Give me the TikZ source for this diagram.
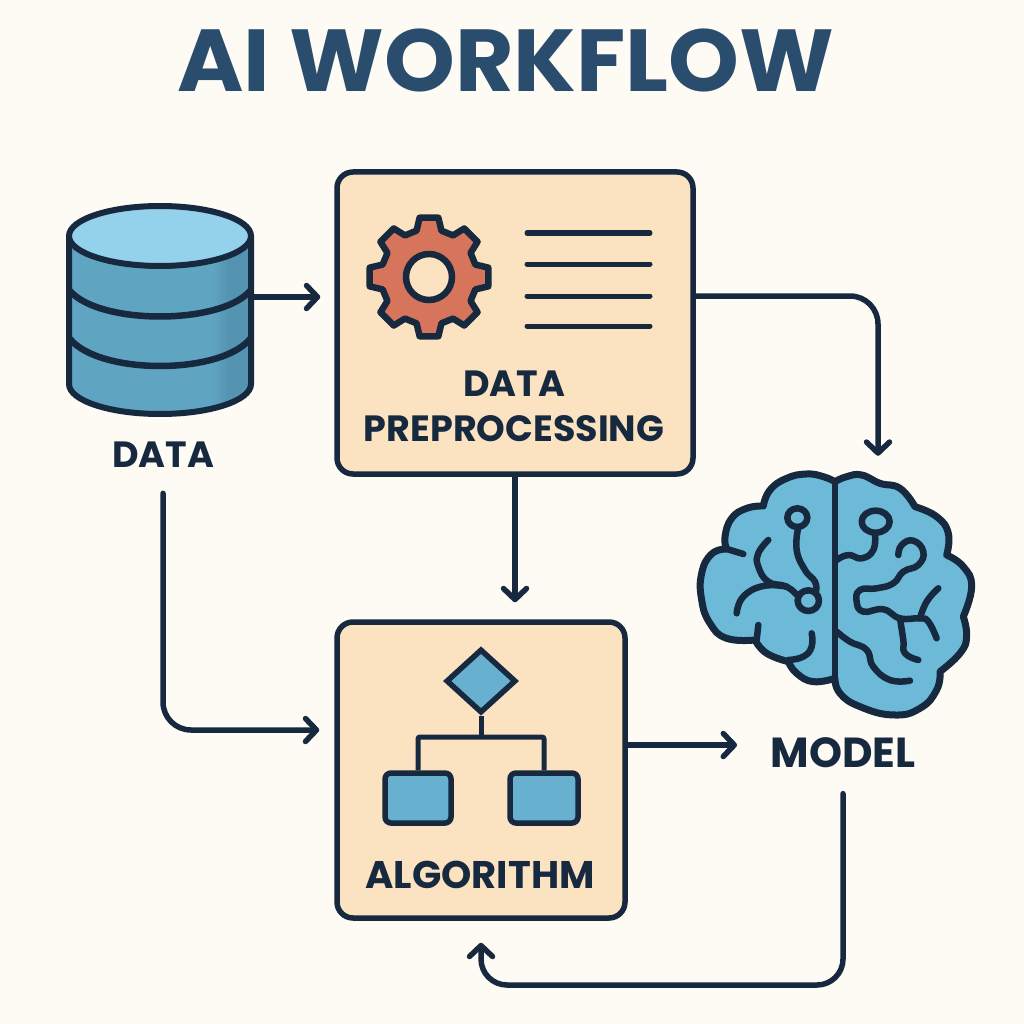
\documentclass[tikz,border=0pt]{standalone}
\usepackage{fontspec}
\setmainfont{Poppins}
\newfontfamily\headfont[FakeStretch=1.024]{Poppins}
\usetikzlibrary{arrows.meta,shapes.geometric}
\definecolor{paper}{HTML}{FEFBF4}
\definecolor{ink}{HTML}{16293F}
\definecolor{titleblue}{HTML}{2A4D6E}
\definecolor{boxfill}{HTML}{FBE3C2}
\definecolor{dbtop}{HTML}{93D2EA}
\definecolor{dbbody}{HTML}{5FA5C2}
\definecolor{dbshade}{HTML}{5494B0}
\definecolor{leafblue}{HTML}{68B0CF}
\definecolor{brainblue}{HTML}{6DB9D8}
\definecolor{gearred}{HTML}{D6755C}
\tikzset{
card/.style={draw=ink,fill=boxfill,line width=5.5pt,rounded corners=16pt,inner sep=0pt},
tag/.style={text=ink,font=\fontsize{36.5}{45}\selectfont\bfseries,align=center},
flow/.style={draw=ink,line width=5.5pt,line cap=round,-{Straight Barb[length=11pt,width=23pt,round]}},
fold/.style={draw=ink,line width=6.5pt,line cap=round,line join=round},
leaf/.style={draw=ink,fill=leafblue,line width=5.5pt,rounded corners=6pt,minimum height=50pt,inner sep=0pt}
}
\begin{document}
\begin{tikzpicture}[x=1pt,y=-1pt]
\useasboundingbox (0,0) rectangle (1024,1024);
\fill[paper] (0,0) rectangle (1024,1024);
\node[text=titleblue,font=\fontsize{88}{88}\selectfont\headfont\bfseries] (title) at (506,60) {AI WORKFLOW};
% data store
\node[minimum width=183pt,minimum height=210pt,inner sep=0pt] (db) at (160,310) {};
\begin{scope}
\clip (69,236) -- (69,384) arc[x radius=91,y radius=30,start angle=180,end angle=0] -- (251,236) -- cycle;
\fill[dbbody] (69,236) rectangle (212,420);
\shade[left color=dbbody,right color=dbshade] (212,236) rectangle (228,420);
\fill[dbshade] (228,236) rectangle (251,420);
\end{scope}
\draw[ink,line width=6pt] (251,236) -- (251,384) arc[x radius=91,y radius=30,start angle=0,end angle=180] -- (69,236);
\filldraw[draw=ink,fill=dbtop,line width=6pt] (160,236) ellipse (91 and 30);
\draw[fold] (70,291) .. controls (100,325) and (220,325) .. (250,291);
\draw[fold] (70,339) .. controls (100,375) and (220,375) .. (250,339);
\node[tag] (datatag) at (163,455) {DATA};
% boxes
\node[card,minimum width=356pt,minimum height=302pt] (prep) at (515,323) {};
\node[card,minimum width=288pt,minimum height=296pt] (algo) at (481,770) {};
\node[tag] (preptag) at (514,406) {DATA\\PREPROCESSING};
\node[tag,font=\fontsize{38.5}{45}\selectfont\bfseries] (algotag) at (480,875) {ALGORITHM};
% gear
\begin{scope}[shift={(429,277)}]
\filldraw[draw=ink,fill=gearred,line width=6.5pt,line join=round]
(-15:48) foreach \a in {0,45,...,315} { -- (\a-15:48) -- (\a-9:60) -- (\a+9:60) -- (\a+15:48) } -- cycle;
\filldraw[draw=ink,fill=boxfill,line width=6.5pt] (0,0) circle (23);
\end{scope}
\foreach \y in {233,264,296,326}
{
\draw[ink,line width=5pt,line cap=round] (527,\y) -- (650,\y);
}
% brain
\node[minimum width=276pt,minimum height=240pt,inner sep=0pt] (brain) at (836,595) {};
\begin{scope}[shift={(680,450)},x=0.3333pt,y=-0.3333pt]
\filldraw[draw=ink,fill=brainblue,line width=7pt,line join=round]
plot[smooth,tension=0.8] coordinates {(465,95) (430,80) (380,72) (320,85) (270,120) (250,168)}
-- plot[smooth,tension=0.8] coordinates {(250,168) (200,175) (155,205) (135,260) (140,297)}
-- plot[smooth,tension=0.8] coordinates {(140,297) (95,312) (65,370) (65,450) (90,520) (140,565) (225,570)}
-- plot[smooth,tension=0.8] coordinates {(225,570) (260,610) (325,635)}
-- plot[smooth,tension=0.8] coordinates {(325,635) (350,670) (400,695) (465,685)}
-- plot[smooth,tension=0.8] coordinates {(465,685) (480,730) (540,770) (640,795) (720,775) (770,720) (780,665)}
-- plot[smooth,tension=0.8] coordinates {(780,665) (840,610) (860,560) (850,500)}
-- plot[smooth,tension=0.8] coordinates {(850,500) (875,410) (850,350) (800,315)}
-- plot[smooth,tension=0.8] coordinates {(800,315) (805,250) (770,200) (705,170)}
-- plot[smooth,tension=0.8] coordinates {(705,170) (660,115) (600,100) (545,75) (500,80) (465,95)} -- cycle;
\draw[fold] (465,95) -- (465,685);
\draw[fold] (352,203) ellipse (30 and 28);
\draw[fold] (385,452) ellipse (32 and 31);
\draw[fold] (587,215) ellipse (42 and 33);
\draw[fold] plot[smooth,tension=0.8] coordinates {(355,232) (350,300) (375,360) (405,395) (408,425)};
\draw[fold] plot[smooth,tension=0.8] coordinates {(265,270) (235,310) (235,350) (265,395) (320,410) (355,440)};
\draw[fold] plot[smooth,tension=0.8] coordinates {(170,490) (190,440) (250,408) (320,410)};
\draw[fold] plot[smooth,tension=0.8] coordinates {(395,550) (395,590) (370,620) (325,630)};
\draw[fold] (235,525) -- (230,570);
\draw[fold] (140,297) -- (190,312);
\draw[fold] plot[smooth,tension=0.8] coordinates {(585,250) (580,300) (545,325) (505,315) (470,330)};
\draw[fold] plot[smooth,tension=0.8] coordinates {(655,315) (665,285) (700,272) (730,305) (715,345) (670,365) (640,400) (590,415) (540,420) (530,455) (550,485) (610,478) (660,505) (720,505) (745,515) (770,565)};
\draw[fold] plot[smooth,tension=0.8] coordinates {(720,505) (740,455) (775,415)};
\draw[fold] plot[smooth,tension=0.8] coordinates {(660,505) (670,570) (675,610) (715,630)};
\draw[fold] plot[smooth,tension=0.8] coordinates {(470,545) (510,575) (560,600) (580,650) (630,690) (690,692)};
\end{scope}
\node[tag,font=\fontsize{42}{45}\selectfont\bfseries] (modeltag) at (843,753) {MODEL};
% decision tree
\node[diamond,draw=ink,fill=leafblue,line width=5.5pt,minimum width=70pt,minimum height=64pt,inner sep=0pt] (choice) at (481,681) {};
\node[leaf,minimum width=66pt] (leafa) at (418,798) {};
\node[leaf,minimum width=68pt] (leafb) at (544,798) {};
\coordinate (split) at (481,737);
\draw[ink,line width=5pt] (choice.south) -- (split);
\draw[ink,line width=5pt,rounded corners=2pt] (leafa.north) |- (split) -| (leafb.north);
% connectors
\coordinate (loop) at (660,985);
\draw[flow,shorten >=14pt] ([yshift=13pt]db.east) -- ([yshift=26pt]prep.west);
\draw[flow,shorten >=19pt,rounded corners=28pt] ([yshift=27pt]prep.east) -| ([xshift=42pt]brain.north);
\draw[flow,shorten >=17pt] (prep.south) -- (prep.south |- algo.north);
\draw[flow,shorten <=22pt,shorten >=15pt,rounded corners=28pt] (datatag.south) |- ([yshift=40pt]algo.west);
\draw[flow,shorten >=30pt] ([yshift=25pt]algo.east) -- ([yshift=8pt]modeltag.west);
\draw[flow,shorten <=22pt,shorten >=22pt,rounded corners=26pt] (modeltag.south) |- (loop) -| (algo.south);
\end{tikzpicture}
\end{document}
